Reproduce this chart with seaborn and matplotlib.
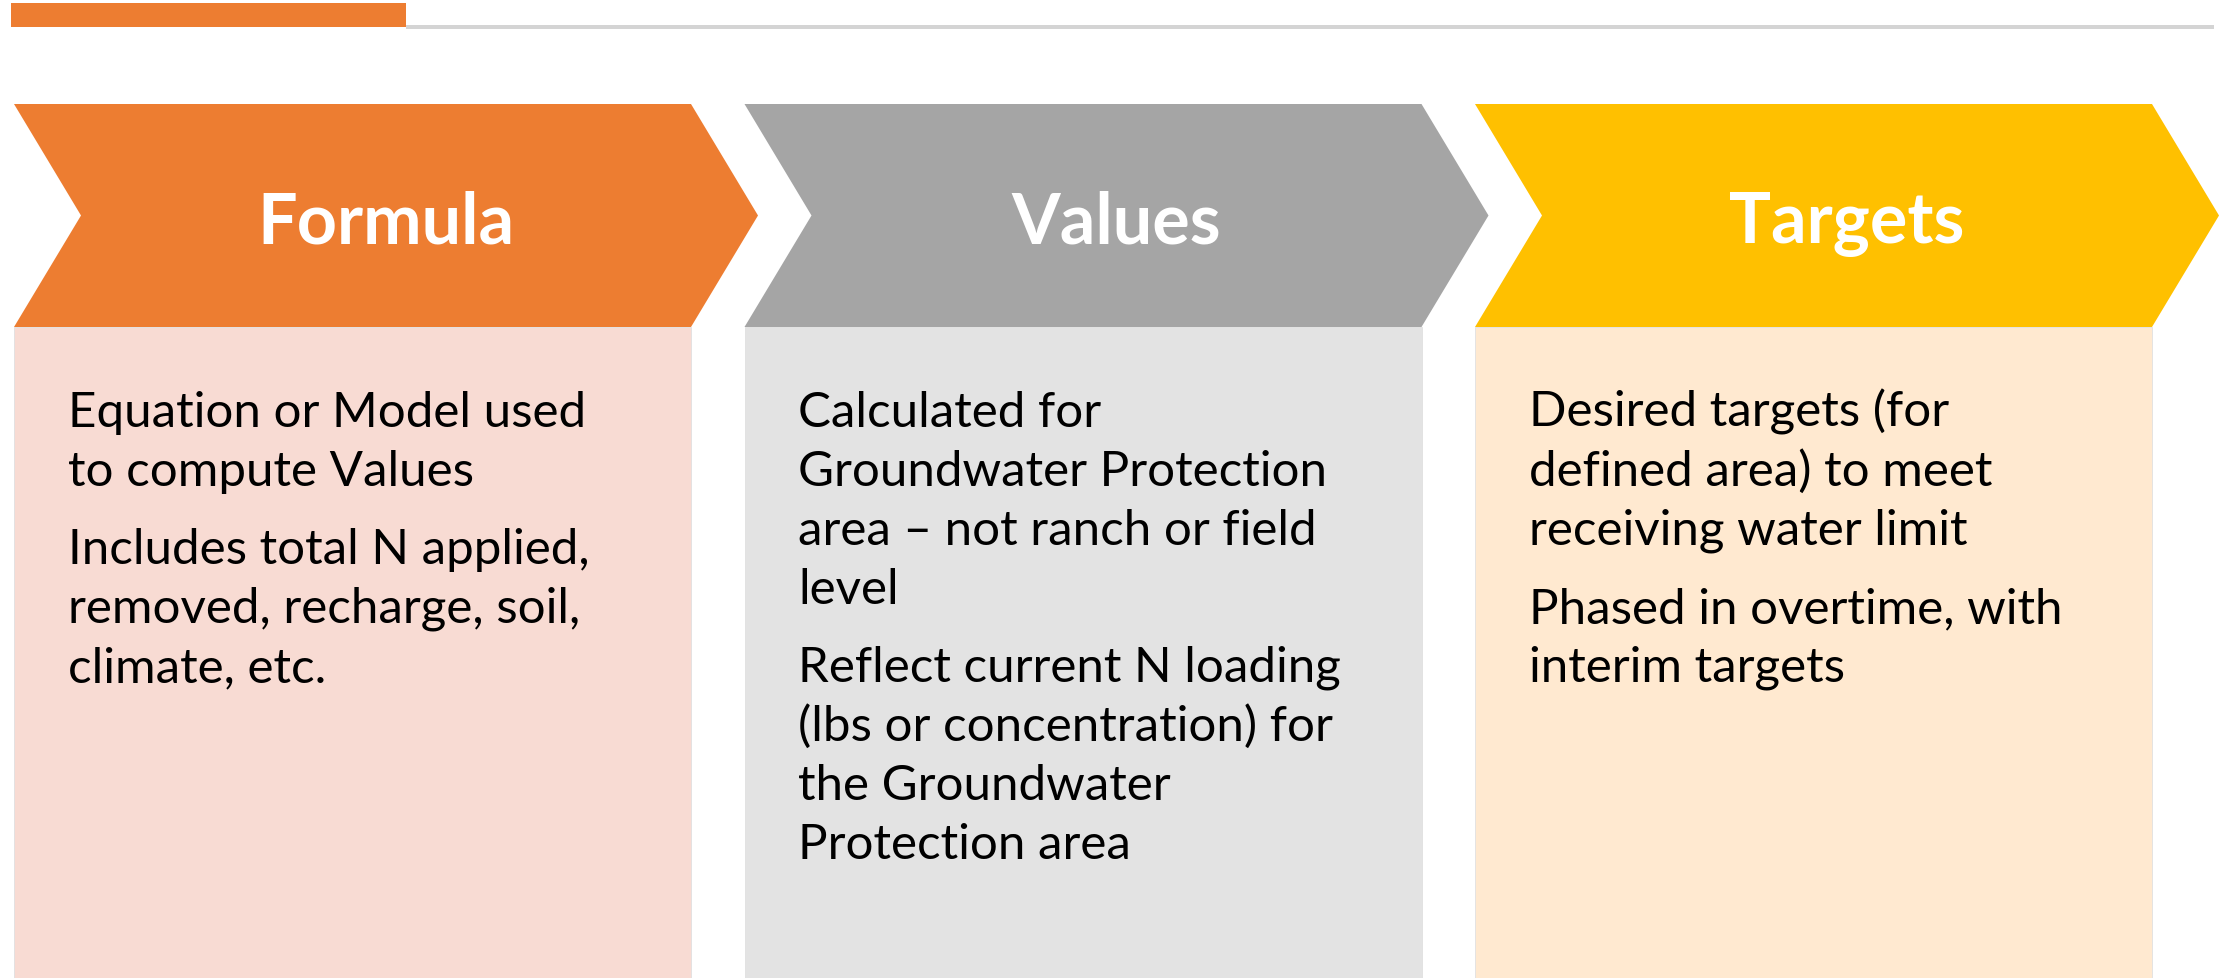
import matplotlib.pyplot as plt
import seaborn as sns
from matplotlib.patches import Polygon, Rectangle

# ---------------------
# Content
# ---------------------

steps = ['Formula', 'Values', 'Targets']
head_colors = ['#ED7D31', '#A5A5A5', '#FFC000']
body_colors = ['#F8DBD3', '#E3E3E3', '#FFE9D0']

formula_notes = [
    ['Equation or Model used', 'to compute Values'],
    ['Includes total N applied,', 'removed, recharge, soil,', 'climate, etc.'],
]
values_notes = [
    ['Calculated for', 'Groundwater Protection', 'area \u2013 not ranch or field', 'level'],
    ['Reflect current N loading', '(lbs or concentration) for', 'the Groundwater', 'Protection area'],
]
targets_notes = [
    ['Desired targets (for', 'defined area) to meet', 'receiving water limit'],
    ['Phased in overtime, with', 'interim targets'],
]
notes = [formula_notes, values_notes, targets_notes]

# ---------------------
# Layout (pixels of the 2233x979 canvas)
# ---------------------

W, H = 2233, 979
x0, step_dx = 14, 730.5
head_w, notch = 677, 67
head_top, head_bot = 105, 328
line_h, para_h = 59, 78

sns.set_theme(style='white')
plt.rcParams['font.family'] = ['Lato', 'DejaVu Sans']

fig = plt.figure(figsize=(W / 100, H / 100), dpi=100)
ax = fig.add_axes([0, 0, 1, 1])
ax.set_xlim(0, W)
ax.set_ylim(H, 0)
ax.axis('off')

# header accent bar + rule
ax.add_patch(Rectangle((406, 26), 1808, 3.5, color='#D4D4D4', lw=0))
ax.add_patch(Rectangle((11, 4), 395, 24, color='#ED7D31', lw=0))

mid = (head_top + head_bot) / 2
for i, (name, hc, bc, paras) in enumerate(zip(steps, head_colors, body_colors, notes)):
    left = x0 + i * step_dx
    right = left + head_w

    # body box
    ax.add_patch(Rectangle((left, head_bot), head_w, H - head_bot + 5,
                           facecolor=bc, edgecolor='#E0E0E0', lw=0.6))

    # chevron header
    pts = [(left, head_top), (right, head_top), (right + notch, mid),
           (right, head_bot), (left, head_bot), (left + notch, mid)]
    ax.add_patch(Polygon(pts, closed=True, facecolor=hc, edgecolor='none'))
    ax.text(left + (head_w + notch) / 2, 243, name, color='white',
            fontsize=50.5, fontweight='bold', ha='center', va='baseline')

    # bullet text
    y = 427
    for p, lines in enumerate(paras):
        if p > 0:
            y += para_h - line_h
        for ln in lines:
            ax.text(left + 54, y, ln, color='black', fontsize=35.5,
                    ha='left', va='baseline')
            y += line_h

fig.savefig('out.png', dpi=100, facecolor='white')
